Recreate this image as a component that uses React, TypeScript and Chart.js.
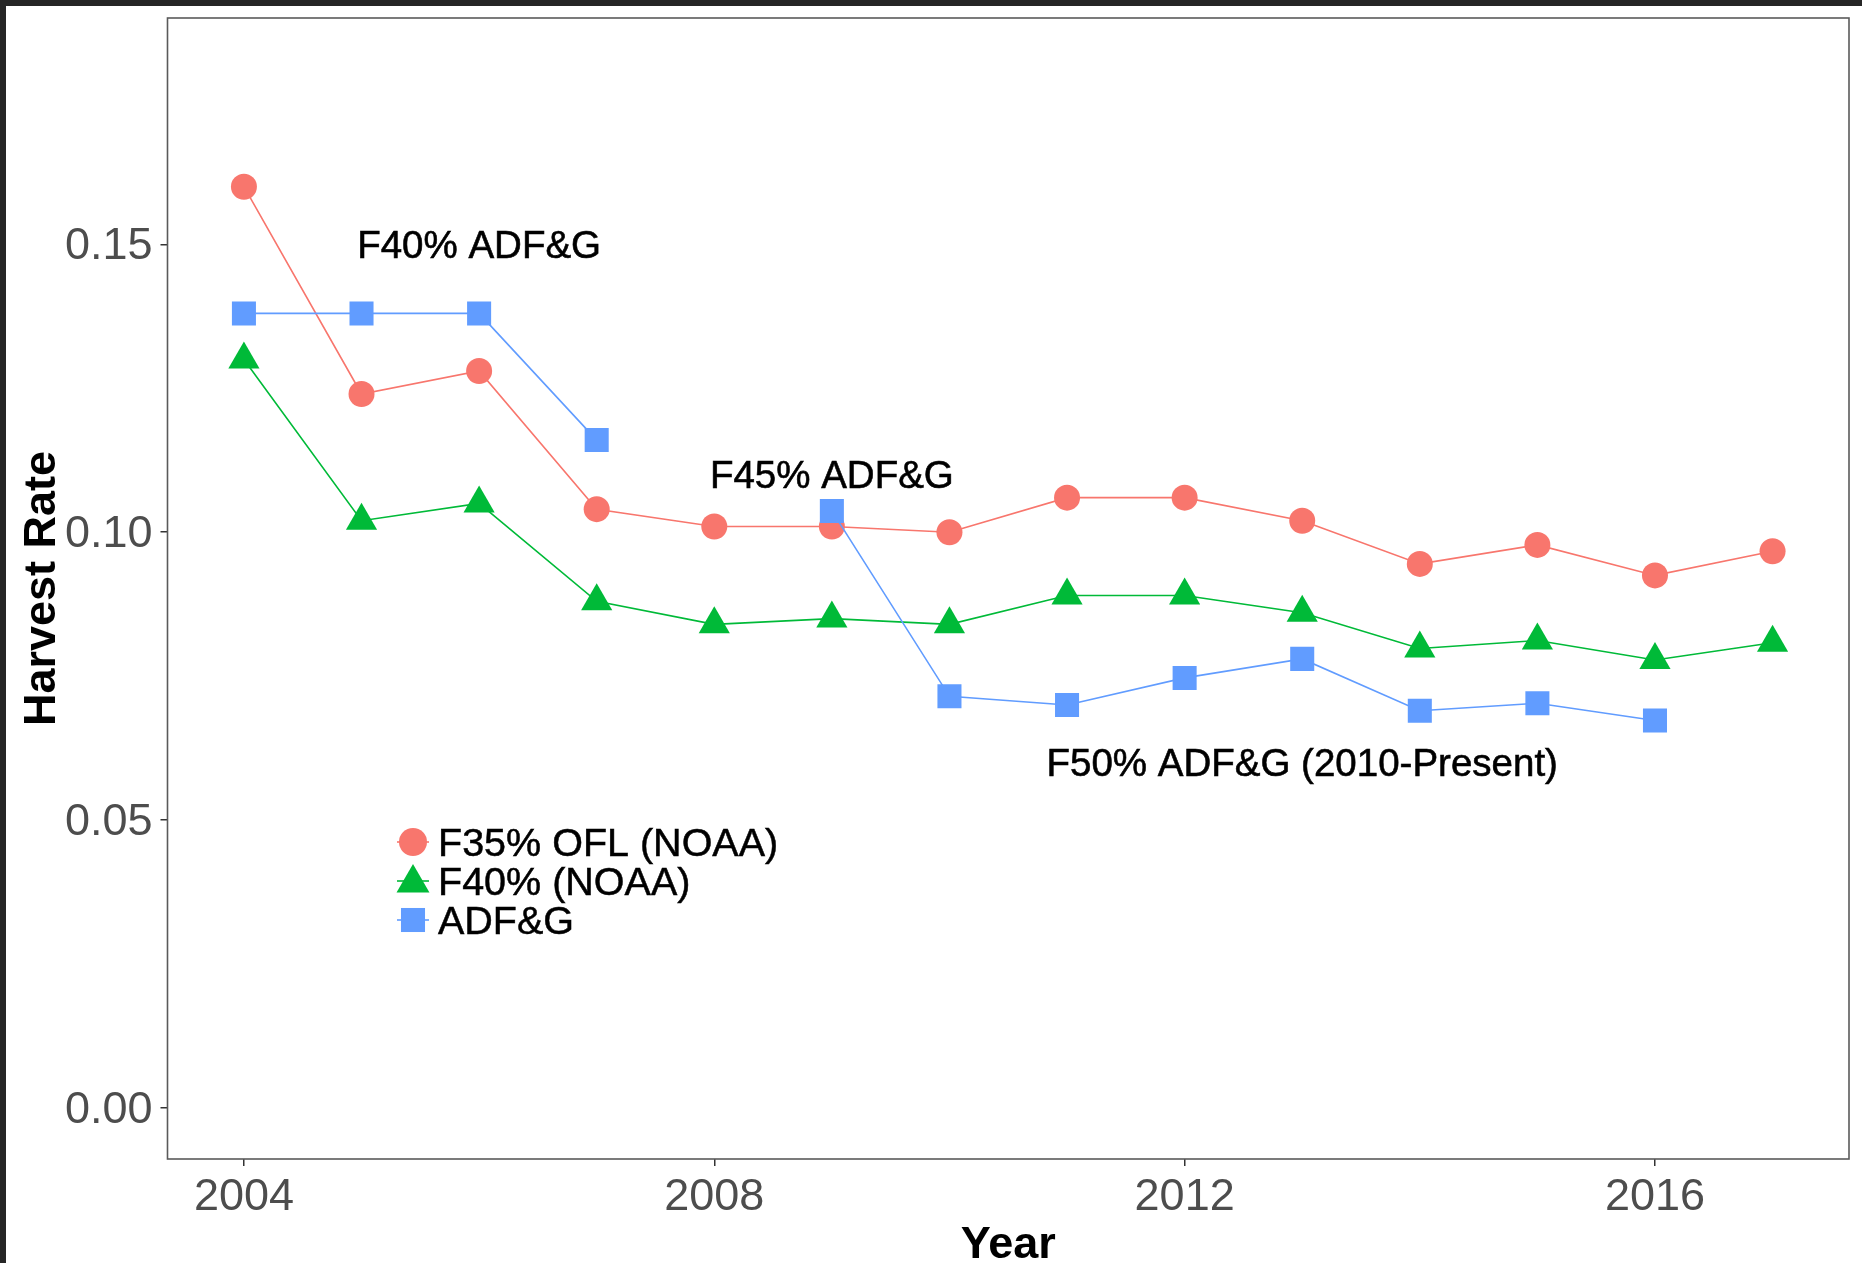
import React, { useEffect, useRef } from "react";
import { Chart, registerables } from "chart.js";

Chart.register(...registerables);

// ---- Data ----
const years = [2004, 2005, 2006, 2007, 2008, 2009, 2010, 2011, 2012, 2013, 2014, 2015, 2016, 2017];
const f35Ofl = [0.16, 0.124, 0.128, 0.104, 0.101, 0.101, 0.1, 0.106, 0.106, 0.102, 0.0945, 0.0978, 0.0925, 0.0967];
const f40Noaa = [0.13, 0.102, 0.105, 0.088, 0.084, 0.085, 0.084, 0.089, 0.089, 0.086, 0.0798, 0.0812, 0.0778, 0.0808];
const adfg = [0.138, 0.138, 0.138, 0.116, null, 0.1037, 0.0715, 0.07, 0.0747, 0.078, 0.069, 0.0703, 0.0673, null];

const seriesNames = ["F35% OFL (NOAA)", "F40% (NOAA)", "ADF&G"];
const seriesColors = ["#F8766D", "#00BA38", "#619CFF"];
const seriesShapes = ["circle", "triangle", "rect"];

const xTicks = [2004, 2008, 2012, 2016];
const yTicks = [0, 0.05, 0.1, 0.15];

const annotationTexts = ["F40% ADF&G", "F45% ADF&G", "F50% ADF&G (2010-Present)"];
const annotationX = [2006, 2009, 2013];
const annotationY = [0.15, 0.11, 0.06];

const xTitle = "Year";
const yTitle = "Harvest Rate";

const FONT = '"Liberation Sans", Arial, Helvetica, sans-serif';

function drawMarker(ctx: CanvasRenderingContext2D, shape: string, x: number, y: number, r: number, color: string) {
  ctx.fillStyle = color;
  ctx.beginPath();
  if (shape === "circle") {
    ctx.arc(x, y, r, 0, Math.PI * 2);
    ctx.fill();
  } else if (shape === "triangle") {
    ctx.moveTo(x, y - r);
    ctx.lineTo(x + r * Math.sqrt(3) / 2, y + r / 2);
    ctx.lineTo(x - r * Math.sqrt(3) / 2, y + r / 2);
    ctx.closePath();
    ctx.fill();
  } else {
    const s = r * Math.SQRT1_2;
    ctx.fillRect(x - s, y - s, 2 * s, 2 * s);
  }
}

function heavyText(ctx: CanvasRenderingContext2D, t: string, x: number, y: number) {
  ctx.fillText(t, x, y);
  ctx.strokeText(t, x, y);
}

const overlayPlugin = {
  id: "overlay",
  afterDraw(chart: any) {
    const { ctx, chartArea: a, scales } = chart;
    const xs = scales.x;
    const ys = scales.y;
    ctx.save();

    // panel frame
    ctx.strokeStyle = "#5a5a5a";
    ctx.lineWidth = 1.6;
    ctx.strokeRect(a.left, a.top, a.right - a.left, a.bottom - a.top);

    // annotations
    const annSize = 38.5;
    ctx.fillStyle = "#000";
    ctx.strokeStyle = "#000";
    ctx.lineWidth = 0.6;
    ctx.font = `${annSize}px ${FONT}`;
    ctx.textAlign = "center";
    ctx.textBaseline = "alphabetic";
    annotationTexts.forEach((t, i) => {
      heavyText(ctx, t, xs.getPixelForValue(annotationX[i]), ys.getPixelForValue(annotationY[i]) + 0.358 * annSize);
    });

    // legend (inside panel)
    const legSize = 39.5;
    const legRows = [836, 875, 914];
    const keyX = 407;
    const radii = [14, 19, 17];
    ctx.font = `${legSize}px ${FONT}`;
    ctx.textAlign = "left";
    seriesNames.forEach((name, i) => {
      const y = legRows[i];
      ctx.strokeStyle = seriesColors[i];
      ctx.lineWidth = 1.6;
      ctx.beginPath();
      ctx.moveTo(keyX - 16, y);
      ctx.lineTo(keyX + 16, y);
      ctx.stroke();
      drawMarker(ctx, seriesShapes[i], keyX, y + (seriesShapes[i] === "triangle" ? 2 : 0), radii[i], seriesColors[i]);
      ctx.fillStyle = "#000";
      ctx.strokeStyle = "#000";
      ctx.lineWidth = 0.5;
      heavyText(ctx, name, 432, y + 0.358 * legSize);
    });

    // axis titles
    ctx.fillStyle = "#000";
    ctx.font = `bold 45px ${FONT}`;
    ctx.textAlign = "center";
    ctx.textBaseline = "alphabetic";
    ctx.fillText(xTitle, (a.left + a.right) / 2, 1252);

    ctx.translate(49, (a.top + a.bottom) / 2);
    ctx.rotate(-Math.PI / 2);
    ctx.fillText(yTitle, 0, 0);

    ctx.restore();
  },
};

export default function App() {
  const canvasRef = useRef<HTMLCanvasElement | null>(null);

  useEffect(() => {
    const canvas = canvasRef.current;
    if (!canvas) return;
    const seriesValues = [f35Ofl, f40Noaa, adfg];
    const radii = [13, 18, 17];
    const orders = [3, 2, 1];
    const datasets = seriesNames.map((name, i) => ({
      label: name,
      data: years.map((yr, j) => ({ x: yr, y: seriesValues[i][j] })),
      borderColor: seriesColors[i],
      backgroundColor: seriesColors[i],
      borderWidth: 1.6,
      pointStyle: seriesShapes[i],
      pointRadius: radii[i],
      pointBackgroundColor: seriesColors[i],
      pointBorderColor: seriesColors[i],
      pointBorderWidth: 0,
      tension: 0,
      spanGaps: false,
      order: orders[i],
    }));

    const zeroPad = (scale: any) => {
      scale.paddingLeft = 0;
      scale.paddingRight = 0;
      scale.paddingTop = 0;
      scale.paddingBottom = 0;
    };

    const chart = new Chart(canvas, {
      type: "line",
      data: { datasets: datasets as any },
      options: {
        animation: false,
        responsive: false,
        devicePixelRatio: 1,
        layout: { autoPadding: false, padding: { top: 12, right: 13, left: 0, bottom: 0 } },
        plugins: { legend: { display: false }, tooltip: { enabled: false } },
        scales: {
          x: {
            type: "linear",
            min: 2003.35,
            max: 2017.65,
            afterBuildTicks: (scale: any) => {
              scale.ticks = xTicks.map((v) => ({ value: v }));
            },
            afterFit: (scale: any) => {
              scale.height = 104;
              zeroPad(scale);
            },
            ticks: {
              color: "#4D4D4D",
              font: { family: FONT, size: 45 },
              padding: 5,
              maxRotation: 0,
              autoSkip: false,
              callback: (v: any) => String(v),
            },
            grid: { drawOnChartArea: false, drawTicks: true, tickLength: 7, color: "#333", lineWidth: 1.5 },
            border: { display: false },
          },
          y: {
            type: "linear",
            min: -0.00885,
            max: 0.1893,
            afterBuildTicks: (scale: any) => {
              scale.ticks = yTicks.map((v) => ({ value: v }));
            },
            afterFit: (scale: any) => {
              scale.width = 161.5;
              zeroPad(scale);
            },
            ticks: {
              color: "#4D4D4D",
              font: { family: FONT, size: 45 },
              padding: 8,
              labelOffset: 2.5,
              autoSkip: false,
              callback: (v: any) => Number(v).toFixed(2),
            },
            grid: { drawOnChartArea: false, drawTicks: true, tickLength: 7, color: "#333", lineWidth: 1.5 },
            border: { display: false },
          },
        },
      },
      plugins: [overlayPlugin],
    });
    return () => chart.destroy();
  }, []);

  return (
    <div style={{ position: "absolute", left: 0, top: 0, width: 1862, height: 1263, background: "#262626", overflow: "hidden" }}>
      <div style={{ position: "absolute", left: 6, top: 6, width: 1856, height: 1257, background: "#fff" }}>
        <canvas ref={canvasRef} width={1856} height={1257} style={{ width: 1856, height: 1257, display: "block" }} />
      </div>
    </div>
  );
}
